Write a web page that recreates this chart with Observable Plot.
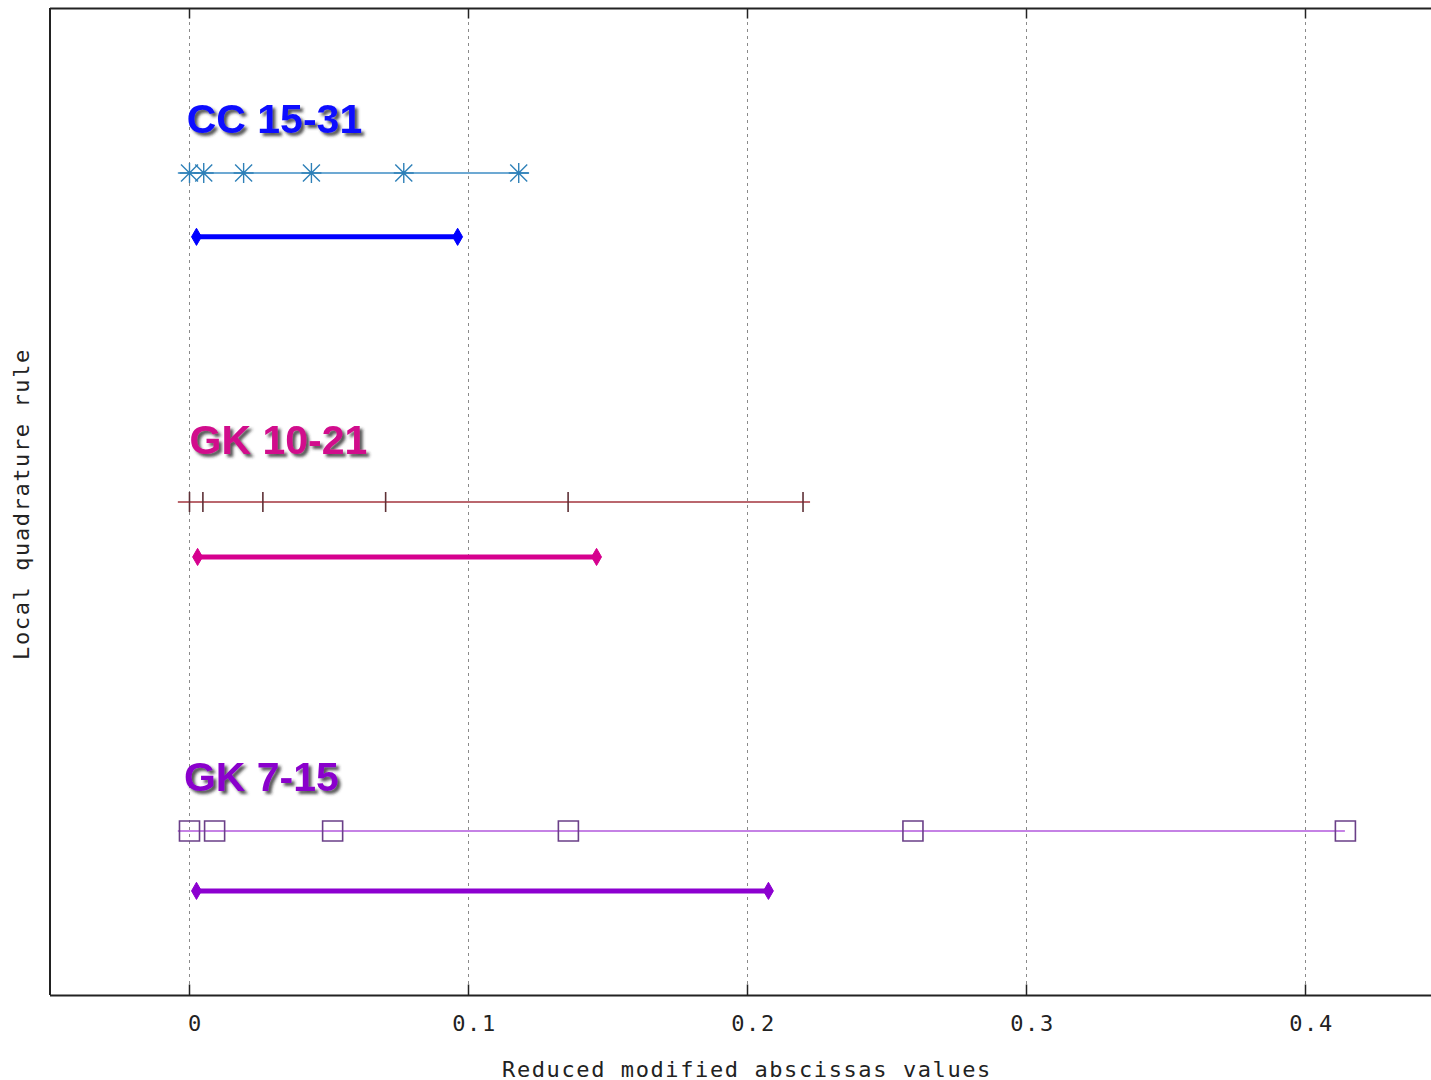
<!DOCTYPE html>
<html><head><meta charset="utf-8">
<script src="https://cdn.jsdelivr.net/npm/d3@7"></script>
<script src="https://cdn.jsdelivr.net/npm/@observablehq/plot@0.6"></script>
<style>
html,body{margin:0;padding:0;background:#fff;overflow:hidden}
</style></head><body><div id="chart"></div>
<script>
// ---- data ----
const rules = ["CC 15-31", "GK 10-21", "GK 7-15"];
const ccNodes   = [0, 0.0051, 0.0194, 0.0437, 0.0768, 0.1180];
const gk21Nodes = [0, 0.0048, 0.0263, 0.0703, 0.1357, 0.2199];
const gk15Nodes = [0, 0.0090, 0.0513, 0.1358, 0.2593, 0.4143];
const lineFrom  = [-0.004, -0.004, -0.004];
const lineTo    = [0.1219, 0.2226, 0.4143];
const barFrom   = [0.0025, 0.0029, 0.0025];
const barTo     = [0.0961, 0.1459, 0.2075];
const markerLevel = [3, 2, 1];
const barLevel    = [2.806, 1.833, 0.818];
const labelLevel  = [3.161, 2.185, 1.161];
const labelX      = [-0.001, 0, -0.002];
const xTicks = [0, 0.1, 0.2, 0.3, 0.4];
const xTickLabels = ["0", "0.1", "0.2", "0.3", "0.4"];
const xDomain = [-0.05, 0.45];
const yDomain = [0.5, 3.5];
const xTitle = "Reduced modified abscissas values";
const yTitle = "Local quadrature rule";

// ---- styles ----
const labelColors = ["#0a0aff", "#d1088c", "#8a02cc"];
const barColors   = ["#0000ff", "#d6008e", "#8c00d0"];
const lineColors  = ["#3d8cc4", "#a3343e", "#b258dc"];
const markColors  = ["#2e80b8", "#5e3036", "#6a3f88"];
const mono = "DejaVu Sans Mono";

const starSymbol = {draw(ctx, size) {
  const r = Math.sqrt(size / Math.PI), d = r * 0.85;
  ctx.moveTo(-r, 0); ctx.lineTo(r, 0);
  ctx.moveTo(0, -r); ctx.lineTo(0, r);
  ctx.moveTo(-d, -d); ctx.lineTo(d, d);
  ctx.moveTo(-d, d); ctx.lineTo(d, -d);
}};
const vbarSymbol = {draw(ctx, size) {
  const r = Math.sqrt(size / Math.PI);
  ctx.moveTo(0, -r); ctx.lineTo(0, r);
}};

const nodeSets = [ccNodes, gk21Nodes, gk15Nodes];
const pts = nodeSets.map((ns, i) => ns.map(x => ({x, y: markerLevel[i]})));
const segs = rules.map((r, i) => ({rule: r, x1: lineFrom[i], x2: lineTo[i], y: markerLevel[i], c: lineColors[i]}));
const bars = rules.map((r, i) => ({rule: r, x1: barFrom[i], x2: barTo[i], y: barLevel[i], c: barColors[i]}));
const barEnds = bars.flatMap(b => [{x: b.x1, y: b.y, c: b.c}, {x: b.x2, y: b.y, c: b.c}]);
const labels = rules.map((r, i) => ({text: r, x: labelX[i], y: labelLevel[i], c: labelColors[i]}));
const tickLen = 0.032;

const chart = Plot.plot({
  width: 1431,
  height: 1080,
  marginLeft: 50,
  marginRight: 0,
  marginTop: 8,
  marginBottom: 85,
  x: {domain: xDomain, range: [49.5, 1444.5]},
  y: {domain: yDomain, axis: null},
  style: {background: "#fff"},
  marks: [
    Plot.ruleX(xTicks, {x: d => d, stroke: "#8a8a8a", strokeDasharray: "3,4", strokeWidth: 1}),
    Plot.ruleX(xTicks, {x: d => d, y1: yDomain[0], y2: yDomain[0] + tickLen, stroke: "#222", strokeWidth: 1.5}),
    Plot.ruleX(xTicks, {x: d => d, y1: yDomain[1] - tickLen, y2: yDomain[1], stroke: "#222", strokeWidth: 1.5}),
    Plot.ruleY(yDomain, {y: d => d, stroke: "#222", strokeWidth: 2}),
    Plot.ruleX([xDomain[0]], {x: d => d, stroke: "#222", strokeWidth: 2}),
    // marker lines
    Plot.ruleY(segs, {y: "y", x1: "x1", x2: "x2", stroke: "c", strokeWidth: 1.5}),
    Plot.dot(pts[0], {x: "x", y: "y", symbol: starSymbol, r: 10, fill: "none", stroke: markColors[0], strokeWidth: 1.4}),
    Plot.dot(pts[1], {x: "x", y: "y", symbol: vbarSymbol, r: 10, fill: "none", stroke: markColors[1], strokeWidth: 1.6}),
    Plot.dot(pts[2], {x: "x", y: "y", symbol: "square", r: 11.3, fill: "none", stroke: markColors[2], strokeWidth: 1.6}),
    // range bars
    Plot.ruleY(bars, {y: "y", x1: "x1", x2: "x2", stroke: "c", strokeWidth: 5}),
    Plot.dot(barEnds, {x: "x", y: "y", symbol: "diamond", r: 5.2, fill: "c", stroke: "c", strokeWidth: 1}),
    // labels (drop shadow added by filter below)
    Plot.text(labels, {x: "x", y: "y", text: "text", textAnchor: "start", fill: "c", fontSize: 41, fontWeight: "bold", fontFamily: "Liberation Sans, Arial, sans-serif"}),
    // axes
    Plot.axisX(xTicks, {anchor: "bottom", tickSize: 0, tickPadding: 20, dx: 6, fontSize: 22, fontFamily: mono, fill: "#222", label: null,
      tickFormat: d => xTickLabels[xTicks.indexOf(d)]}),
    Plot.text([xTitle], {frameAnchor: "bottom", dx: 6, dy: 81, fontSize: 22, fontFamily: mono, fill: "#222"}),
    Plot.text([yTitle], {frameAnchor: "left", textAnchor: "middle", rotate: -90, dx: -29, dy: 2, fontSize: 22, fontFamily: mono, fill: "#222"})
  ]
});

document.getElementById("chart").appendChild(chart);

// post-processing: letter spacing on mono text, drop shadow on rule labels
const svg = d3.select(chart);
svg.selectAll("g").filter(function() {
  const f = this.getAttribute("font-family");
  return f && f.includes("Mono");
}).style("letter-spacing", "1.6px");
const defs = svg.insert("defs", ":first-child");
defs.append("filter").attr("id", "lblShadow").attr("x", "-10%").attr("y", "-30%").attr("width", "130%").attr("height", "170%")
  .append("feDropShadow").attr("dx", 3).attr("dy", 3).attr("stdDeviation", 1.4)
  .attr("flood-color", "#2a2a2a").attr("flood-opacity", 0.8);
svg.selectAll('g[aria-label="text"]').filter(function() {
  return this.getAttribute("font-weight") === "bold";
}).attr("filter", "url(#lblShadow)");
</script>
</body></html>
